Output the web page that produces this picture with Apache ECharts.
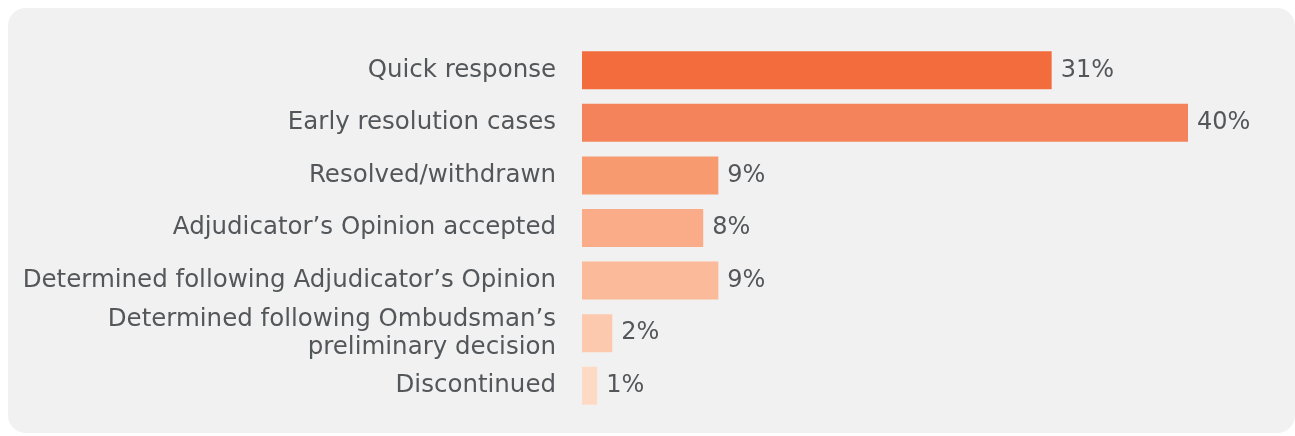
<!DOCTYPE html>
<html>
<head>
<meta charset="utf-8">
<script src="https://cdn.jsdelivr.net/npm/echarts@6/dist/echarts.min.js"></script>
<style>
html,body{margin:0;padding:0;background:#ffffff;}
#panel{position:absolute;left:8px;top:8px;width:1287px;height:425px;background:#f1f1f1;border-radius:18px;}
#chart{position:absolute;left:0;top:0;width:1295px;height:436px;}
</style>
</head>
<body>
<div id="panel"></div>
<div id="chart"></div>
<script>
const categories = [
  "Quick response",
  "Early resolution cases",
  "Resolved/withdrawn",
  "Adjudicator\u2019s Opinion accepted",
  "Determined following Adjudicator\u2019s Opinion",
  "Determined following Ombudsman\u2019s\npreliminary decision",
  "Discontinued"
];
const values = [31, 40, 9, 8, 9, 2, 1];
const colors = ["#f26c3d", "#f4825a", "#f79a70", "#f9ac87", "#fbba99", "#fcc9ae", "#fed9c4"];

const chart = echarts.init(document.getElementById('chart'), null, {renderer: 'canvas'});
const fontFamily = "'DejaVu Sans', sans-serif";
chart.setOption({
  backgroundColor: 'transparent',
  animation: false,
  grid: {left: 582, right: 107, top: 44, bottom: 24, containLabel: false},
  xAxis: {
    type: 'value', min: 0, max: 40, show: false
  },
  yAxis: {
    type: 'category', data: categories, inverse: true,
    axisLine: {show: false}, axisTick: {show: false}, splitLine: {show: false},
    axisLabel: {
      margin: 26, fontSize: 24.5, color: '#54575a', fontFamily: fontFamily,
      align: 'right', lineHeight: 28
    }
  },
  series: [{
    type: 'bar',
    barWidth: 38,
    data: values.map((v, i) => ({value: v, itemStyle: {color: colors[i]}})),
    label: {
      show: true, position: 'right', distance: 9,
      formatter: '{c}%', fontSize: 24, color: '#54575a', fontFamily: fontFamily
    }
  }]
});
</script>
</body>
</html>
